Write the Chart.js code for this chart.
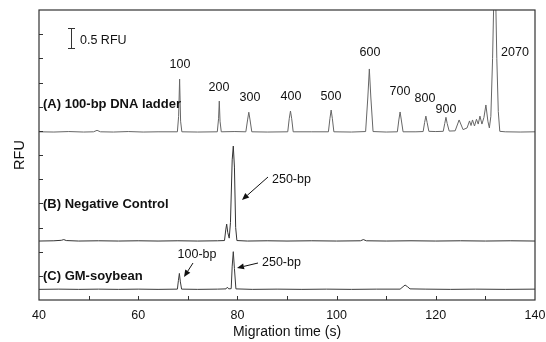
<!DOCTYPE html>
<html><head><meta charset="utf-8">
<script src="https://cdn.jsdelivr.net/npm/chart.js@4/dist/chart.umd.min.js"></script>
<style>html,body{margin:0;padding:0;background:#fff}#wrap{width:546px;height:342px}</style>
</head><body><div id="wrap"><canvas id="c" width="546" height="342"></canvas></div>
<script>
// Trace (A) 100-bp DNA ladder: migration time (s) and offset signal
const timeA = [40,43,46,49,51.0,51.7,52.4,55,58,61,64,67.9,68.15,68.35,68.55,68.8,72,75.95,76.2,76.35,76.5,76.75,79.5,81.7,82.05,82.3,82.55,82.9,86,90.15,90.45,90.7,90.95,91.25,95,98.35,98.65,98.9,99.15,99.45,103,105.85,106.3,106.6,106.9,107.35,110,112.25,112.55,112.8,113.05,113.4,116,117.45,117.75,118.0,118.25,118.6,120,121.5,121.8,122.05,122.3,122.7,123.9,124.7,125.5,126.3,126.8,127.1,127.4,127.8,128.2,128.55,128.9,129.3,129.7,130.1,130.5,130.8,131.1,131.45,131.9,132.3,132.6,132.9,134,137,140];
const signalA = [6.96,6.95,6.97,6.95,6.96,7.02,6.96,6.95,6.97,6.95,6.96,6.96,7.6,9.14,7.4,6.96,6.95,6.96,7.5,8.23,7.4,6.96,6.97,6.96,7.45,7.77,7.45,6.96,6.95,6.96,7.5,7.82,7.5,6.96,6.96,6.96,7.5,7.86,7.5,6.96,6.95,6.97,8.4,9.56,8.4,6.97,6.95,6.96,7.45,7.78,7.45,6.96,6.96,6.97,7.35,7.61,7.35,6.98,6.97,6.98,7.3,7.56,7.3,6.99,7.0,7.45,7.05,7.12,7.41,7.22,7.45,7.2,7.48,7.28,7.61,7.28,7.55,8.07,7.4,7.12,7.6,10.0,14.5,10.0,7.8,6.98,6.96,6.95,6.96];
// Trace (B) Negative Control
const timeB = [40,43,44.5,45.0,45.5,48,52,56,60,64,68,72,76,77.4,77.65,77.84,78.05,78.35,78.6,78.95,79.17,79.4,79.65,79.9,82,86,90,95,100,104.8,105.4,106,110,115,120,125,130,135,140];
const signalB = [2.44,2.45,2.47,2.5,2.46,2.44,2.45,2.44,2.45,2.44,2.45,2.44,2.45,2.46,2.9,3.14,2.8,2.56,3.2,5.8,6.37,5.5,3.0,2.46,2.44,2.45,2.44,2.45,2.44,2.45,2.5,2.45,2.44,2.45,2.44,2.45,2.44,2.45,2.44];
// Trace (C) GM-soybean
const timeC = [40,44,48,52,56,60,64,67.9,68.1,68.3,68.5,68.75,72,76,77.7,77.97,78.25,78.75,78.95,79.17,79.4,79.7,83,88,93,98,103,108,112.8,113.4,113.8,114.3,114.8,118,123,128,134,140];
const signalC = [0.44,0.45,0.44,0.45,0.44,0.45,0.44,0.45,0.8,1.10,0.75,0.45,0.44,0.45,0.46,0.53,0.46,0.47,1.4,2.0,1.3,0.46,0.44,0.45,0.44,0.45,0.44,0.45,0.45,0.55,0.62,0.55,0.46,0.45,0.44,0.45,0.44,0.45];
const xTickLabels = ['40','60','80','100','120','140'];

const FAMILY = '"Liberation Sans", Arial, Helvetica, sans-serif';
const toXY = (ts, vs) => ts.map((t, i) => ({x: t, y: vs[i]}));

// annotation texts (pixel positions)
const labels = [
  {t:'0.5 RFU', x:80, y:41, a:'left'},
  {t:'100', x:180, y:65}, {t:'200', x:219, y:88}, {t:'300', x:250, y:98},
  {t:'400', x:291, y:97}, {t:'500', x:331, y:97}, {t:'600', x:370, y:53},
  {t:'700', x:400, y:92}, {t:'800', x:425, y:99}, {t:'900', x:446, y:110},
  {t:'2070', x:515, y:53},
  {t:'(A) 100-bp DNA ladder', x:43, y:104, a:'left', b:true},
  {t:'(B) Negative Control', x:43, y:204, a:'left', b:true},
  {t:'(C) GM-soybean', x:43, y:276, a:'left', b:true},
  {t:'250-bp', x:272, y:180, a:'left'},
  {t:'250-bp', x:262, y:263, a:'left'},
  {t:'100-bp', x:197, y:255}
];
const arrows = [[268,177,242,200],[258,263,237,268],[193,263,184,277]];

const deco = {
  id: 'deco',
  afterDraw(chart) {
    const ctx = chart.ctx, ca = chart.chartArea;
    const xs = chart.scales.x, ys = chart.scales.y;
    ctx.save();
    ctx.strokeStyle = '#333'; ctx.lineWidth = 1.2;
    ctx.strokeRect(ca.left, ca.top, ca.right - ca.left, ca.bottom - ca.top);
    ctx.lineWidth = 1;
    ctx.beginPath();
    for (let v = 50; v < 140; v += 10) {
      const px = Math.round(xs.getPixelForValue(v)) + 0.5;
      ctx.moveTo(px, ca.bottom); ctx.lineTo(px, ca.bottom - 4);
    }
    for (let v = 1; v < 12; v++) {
      const py = Math.round(ys.getPixelForValue(v)) + 0.5;
      ctx.moveTo(ca.left, py); ctx.lineTo(ca.left + 4, py);
    }
    // 0.5 RFU scale bar
    ctx.moveTo(71.5, 28); ctx.lineTo(71.5, 49);
    ctx.moveTo(68, 28.5); ctx.lineTo(75, 28.5);
    ctx.moveTo(68, 48.5); ctx.lineTo(75, 48.5);
    ctx.stroke();
    // arrows
    ctx.strokeStyle = '#111'; ctx.fillStyle = '#111';
    arrows.forEach(([x1, y1, x2, y2]) => {
      const ang = Math.atan2(y2 - y1, x2 - x1), L = 7, W = 3;
      const bx = x2 - L * Math.cos(ang), by = y2 - L * Math.sin(ang);
      ctx.beginPath(); ctx.moveTo(x1, y1); ctx.lineTo(bx, by); ctx.stroke();
      ctx.beginPath(); ctx.moveTo(x2, y2);
      ctx.lineTo(bx + W * Math.sin(ang), by - W * Math.cos(ang));
      ctx.lineTo(bx - W * Math.sin(ang), by + W * Math.cos(ang));
      ctx.closePath(); ctx.fill();
    });
    ctx.textBaseline = 'middle';
    labels.forEach(l => {
      ctx.font = (l.b ? 'bold 13px ' : '12.5px ') + FAMILY;
      ctx.textAlign = l.a || 'center';
      ctx.fillText(l.t, l.x, l.y);
    });
    ctx.restore();
  }
};

new Chart(document.getElementById('c'), {
  type: 'scatter',
  data: {
    datasets: [
      {label: 'A', data: toXY(timeA, signalA), borderColor: '#666'},
      {label: 'B', data: toXY(timeB, signalB), borderColor: '#333'},
      {label: 'C', data: toXY(timeC, signalC), borderColor: '#3a3a3a'}
    ].map(d => Object.assign(d, {showLine: true, pointRadius: 0, borderWidth: 1, tension: 0}))
  },
  options: {
    responsive: false, animation: false,
    layout: {padding: {top: 10, right: 11, left: 0, bottom: 0}},
    plugins: {legend: {display: false}, tooltip: {enabled: false}},
    scales: {
      x: {
        type: 'linear', min: 40, max: 140,
        afterFit(s) { s.height = 42; s.paddingLeft = 0; s.paddingRight = 0; },
        afterBuildTicks(s) { s.ticks = xTickLabels.map(v => ({value: +v})); },
        ticks: {font: {size: 12.5, family: FAMILY}, color: '#111', padding: 8, maxRotation: 0, autoSkip: false},
        grid: {display: false, drawTicks: false},
        border: {display: false},
        title: {display: true, text: 'Migration time (s)', color: '#111', font: {size: 14, family: FAMILY}, padding: {top: 0, bottom: 1.6}}
      },
      y: {
        min: 0, max: 12,
        afterFit(s) { s.width = 39; s.paddingTop = 0; s.paddingBottom = 0; },
        ticks: {display: false},
        grid: {display: false, drawTicks: false},
        border: {display: false},
        title: {display: true, text: 'RFU', color: '#111', font: {size: 14.5, family: FAMILY}, padding: {top: 11, bottom: 0}}
      }
    }
  },
  plugins: [deco]
});
</script>
</body></html>
